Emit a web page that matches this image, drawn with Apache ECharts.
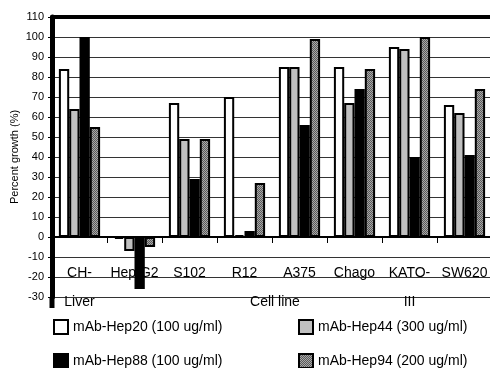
<!DOCTYPE html>
<html>
<head>
<meta charset="utf-8">
<script src="https://cdn.jsdelivr.net/npm/echarts@6/dist/echarts.min.js"></script>
<style>
  html, body {margin: 0; padding: 0; background: #fff;}
  #chart {width: 490px; height: 368px;}
</style>
</head>
<body>
<div id="chart"></div>
<script>
// cell lines on the x axis
const cellLines = ['CH-\nLiver', 'Hep G2', 'S102', 'R12', 'A375', 'Chago', 'KATO-\nIII', 'SW620']
const seriesNames = ['mAb-Hep20 (100 ug/ml)', 'mAb-Hep44 (300 ug/ml)', 'mAb-Hep88 (100 ug/ml)', 'mAb-Hep94 (200 ug/ml)']

// percent growth per antibody
const hep20 = [84, -1, 67, 70, 85, 85, 95, 66]
const hep44 = [64, -7, 49, 1, 85, 67, 94, 62]
const hep88 = [100, -26, 29, 3, 56, 74, 40, 41]
const hep94 = [55, -5, 49, 27, 99, 84, 100, 74]

const yTicks = {min: -30, max: 110, step: 10}

// dithered fill for the last series
const makeDither = () => {
  const c = document.createElement('canvas')
  c.width = 2
  c.height = 2
  const ctx = c.getContext('2d')
  ctx.fillStyle = '#a8a8a8'
  ctx.fillRect(0, 0, 2, 2)
  ctx.fillStyle = '#5a5a5a'
  ctx.fillRect(0, 0, 1, 1)
  ctx.fillRect(1, 1, 1, 1)
  return {image: c, repeat: 'repeat'}
}

const font = 'Liberation Sans'
const fills = ['#ffffff', '#c0c0c0', '#000000', makeDither()]
const values = [hep20, hep44, hep88, hep94]

const chart = echarts.init(document.getElementById('chart'), null, {renderer: 'canvas'})

// one legend per entry, laid out as a 2x2 block under the plot
const legendSpots = [[53, 319], [298, 319], [53, 353], [298, 353]]
const legends = seriesNames.map((name, i) => ({
  data: [name],
  left: legendSpots[i][0],
  top: legendSpots[i][1],
  padding: 0,
  itemWidth: 14,
  itemHeight: 14,
  itemGap: 0,
  icon: 'rect',
  textStyle: {fontFamily: font, fontSize: 14, color: '#000'},
  itemStyle: {borderColor: '#000', borderWidth: 2},
}))

chart.setOption({
  animation: false,
  grid: {left: 52, top: 17, width: 440, height: 280, outerBoundsMode: 'none', containLabel: false},
  legend: legends,
  // the left axis runs a little past the bottom of the plot
  graphic: [{
    type: 'line',
    shape: {x1: 52, y1: 297, x2: 52, y2: 308},
    style: {stroke: '#000', lineWidth: 5},
  }],
  xAxis: [
    {
      type: 'category',
      data: cellLines,
      position: 'bottom',
      name: 'Cell line',
      nameLocation: 'middle',
      nameGap: -2,
      nameMoveOverlap: false,
      nameTextStyle: {fontFamily: font, fontSize: 14, color: '#000', padding: [0, 0, 0, 6]},
      axisLine: {show: false, onZero: false},
      axisTick: {show: false},
      axisLabel: {fontFamily: font, fontSize: 14, color: '#000', lineHeight: 29, margin: -38, interval: 0},
    },
    {
      type: 'category',
      position: 'top',
      data: cellLines,
      axisLine: {onZero: false, lineStyle: {color: '#000', width: 4}},
      axisTick: {show: false},
      axisLabel: {show: false},
    },
    {
      type: 'category',
      position: 'bottom',
      data: cellLines,
      axisLine: {onZero: true, lineStyle: {color: '#000', width: 2}},
      axisTick: {show: true, length: 6, lineStyle: {color: '#000', width: 1}},
      axisLabel: {show: false},
    },
  ],
  yAxis: {
    type: 'value',
    min: yTicks.min,
    max: yTicks.max,
    interval: yTicks.step,
    name: 'Percent growth (%)',
    nameLocation: 'middle',
    nameGap: 32,
    nameMoveOverlap: false,
    nameTextStyle: {fontFamily: font, fontSize: 11, color: '#000'},
    axisLine: {show: true, onZero: false, lineStyle: {color: '#000', width: 5}},
    axisTick: {show: true, length: 4, lineStyle: {color: '#000'}},
    axisLabel: {fontFamily: font, fontSize: 11, color: '#000', margin: 8},
    splitLine: {show: true, lineStyle: {color: '#333', width: 1}},
  },
  series: seriesNames.map((name, i) => ({
    name,
    type: 'bar',
    xAxisIndex: 0,
    data: values[i],
    barWidth: 10.3,
    barGap: '0%',
    itemStyle: {color: fills[i], borderColor: '#000', borderWidth: 2},
  })),
})
</script>
</body>
</html>
